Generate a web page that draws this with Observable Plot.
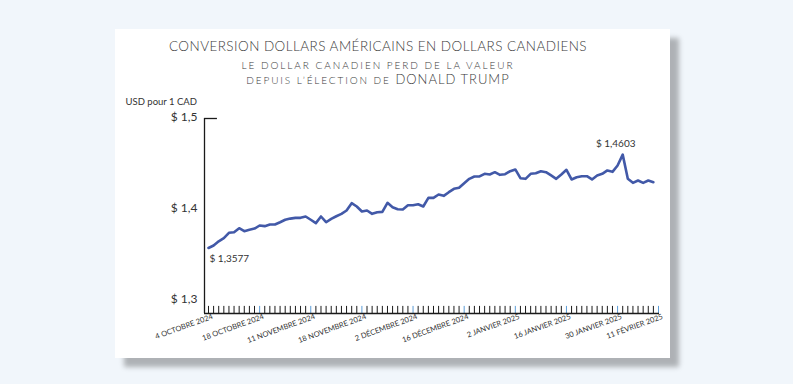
<!DOCTYPE html>
<html><head><meta charset="utf-8">
<script src="https://cdn.jsdelivr.net/npm/d3@7"></script>
<script src="https://cdn.jsdelivr.net/npm/@observablehq/plot@0.6"></script>
<style>
body{margin:0;background:#f1f6fb;font-family:Lato,"Noto Sans",sans-serif;}
#page{position:relative;width:793px;height:384px;overflow:hidden;}
#card{position:absolute;left:115px;top:29px;width:555px;height:329px;background:#fff;box-shadow:9px 9px 5px rgba(0,0,0,0.28);}
.t{position:absolute;left:0;width:756px;text-align:center;color:#3a3a3a;white-space:nowrap;font-family:Lato,sans-serif;font-weight:300;}
#t1{top:37px;font-size:13.5px;letter-spacing:0.45px;line-height:18px;}
#t2{top:58px;font-size:10px;letter-spacing:1.95px;line-height:14px;}
#t3{top:71px;font-size:10px;letter-spacing:1.9px;line-height:16px;}
#t3 span{font-size:13px;letter-spacing:1px;}
#unit{position:absolute;right:596px;top:96px;font-size:9.5px;line-height:12px;color:#333;white-space:nowrap;}
#chart{position:absolute;left:0;top:0;}
</style></head>
<body><div id="page">
<div id="card"></div>
<div class="t" id="t1">CONVERSION DOLLARS AMÉRICAINS EN DOLLARS CANADIENS</div>
<div class="t" id="t2">LE DOLLAR CANADIEN PERD DE LA VALEUR</div>
<div class="t" id="t3">DEPUIS L’ÉLECTION DE <span>DONALD TRUMP</span></div>
<div id="unit">USD pour 1 CAD</div>
<div id="chart"></div>
</div>
<script>
const values = [
1.3577,1.3604,1.3650,1.3685,1.3744,1.3750,1.3794,1.3762,1.3777,1.3790,
1.3824,1.3817,1.3835,1.3835,1.3860,1.3887,1.3900,1.3908,1.3908,1.3923,
1.3887,1.3850,1.3923,1.3860,1.3897,1.3926,1.3952,1.3989,1.4069,1.4033,
1.3978,1.3989,1.3952,1.3970,1.3974,1.4073,1.4025,1.4003,1.4000,1.4047,
1.4047,1.4058,1.4033,1.4128,1.4128,1.4165,1.4150,1.4190,1.4227,1.4238,
1.4289,1.4337,1.4363,1.4363,1.4392,1.4385,1.4410,1.4381,1.4388,1.4421,
1.4440,1.4344,1.4337,1.4392,1.4399,1.4421,1.4410,1.4374,1.4337,1.4385,
1.4436,1.4330,1.4355,1.4366,1.4366,1.4330,1.4374,1.4392,1.4429,1.4414,
1.4484,1.4603,1.4337,1.4293,1.4319,1.4293,1.4319,1.4300
];
const tickLabels = ["4 OCTOBRE 2024","18 OCTOBRE 2024","11 NOVEMBRE 2024","18 NOVEMBRE 2024","2 DÉCEMBRE 2024","16 DÉCEMBRE 2024","2 JANVIER 2025","16 JANVIER 2025","30 JANVIER 2025","11 FÉVRIER 2025"];
const tickLabelIndex = [0,10,20,30,40,50,60,70,80,88];
const tickCount = 89;
const yTicks = [1.3, 1.4, 1.5];

const xMin = -0.78, xMax = 88;
const yMin = 1.2857, yMax = 1.5;
const ticks = d3.range(tickCount);
const fmt = d => "$ " + String(d).replace(".", ",");
const labels = tickLabelIndex.map((i, k) => ({i, text: tickLabels[k]}));
const maxI = d3.maxIndex(values);
const annots = [
  {i: 0, v: values[0]},
  {i: maxI, v: values[maxI]}
];

const chart = Plot.plot({
  width: 793, height: 384,
  marginLeft: 204, marginRight: 135, marginTop: 118, marginBottom: 71,
  x: {domain: [xMin, xMax], axis: null},
  y: {domain: [yMin, yMax], axis: null},
  style: {background: "transparent", overflow: "visible", fontFamily: "Lato, sans-serif"},
  marks: [
    Plot.ruleX([xMin], {y1: yMin, y2: yMax, stroke: "#1a1a1a", strokeWidth: 1.3}),
    Plot.ruleY([yMax], {x1: xMin, x2: 1.75, stroke: "#1a1a1a", strokeWidth: 1.3}),
    Plot.ruleX(ticks, {x: d => d, y1: yMin, y2: yMin + 0.0078,
      stroke: d => (d > 0 && (d % 10 === 0 || d === tickCount - 1)) ? "#5b9bd5" : "#1a1a1a", strokeWidth: 1}),
    Plot.ruleY([yMin], {x1: xMin, x2: xMax + 0.2, stroke: "#1a1a1a", strokeWidth: 1.5}),
    Plot.text(yTicks, {x: xMin, y: d => d, text: fmt, textAnchor: "end", dx: -7, dy: -1, fontSize: 12, fill: "#333"}),
    Plot.line(values, {x: (d, i) => i, y: d => d, stroke: "#4259a8", strokeWidth: 2.6, strokeLinejoin: "round"}),
    Plot.text(labels, {x: "i", y: yMin, text: "text", textAnchor: "end", lineAnchor: "top", rotate: -20, dx: 3, dy: 0, fontSize: 7.5, fill: "#333"}),
    Plot.text(annots.slice(0,1), {x: "i", y: "v", text: d => fmt(d.v), textAnchor: "start", dx: 1, dy: 11, fontSize: 10, fill: "#333"}),
    Plot.text(annots.slice(1), {x: "i", y: "v", text: d => fmt(d.v), textAnchor: "middle", dx: -7, dy: -11, fontSize: 10, fill: "#333"})
  ]
});
document.getElementById("chart").appendChild(chart);
</script>
</body></html>
